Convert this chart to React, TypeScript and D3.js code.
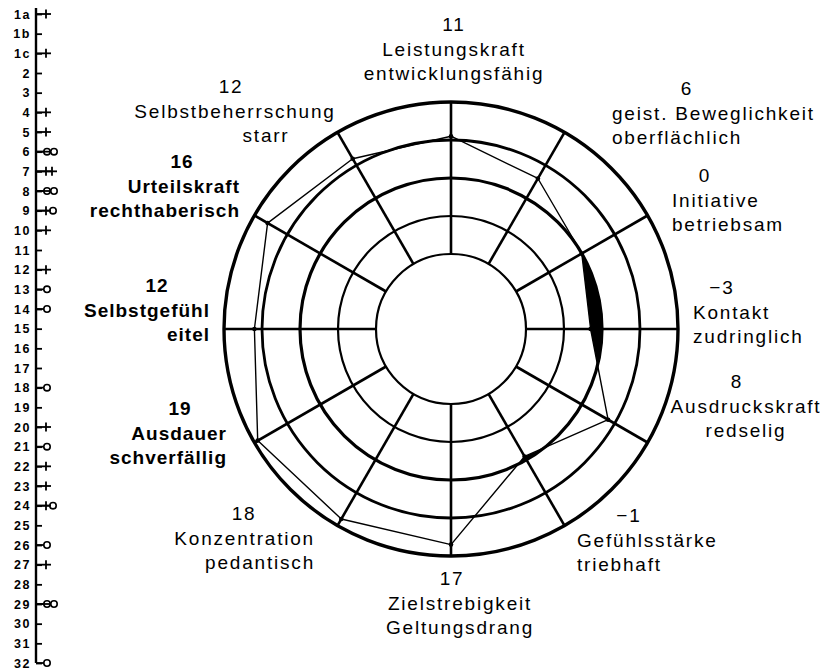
import React, { useRef, useEffect } from "react";
import * as d3 from "d3";

const W = 827;
const H = 669;

// profile, clockwise from the top
const traits = [
  "Leistungskraft",
  "geist. Beweglichkeit",
  "Initiative",
  "Kontakt",
  "Ausdruckskraft",
  "Gefühlsstärke",
  "Zielstrebigkeit",
  "Konzentration",
  "Ausdauer",
  "Selbstgefühl",
  "Urteilskraft",
  "Selbstbeherrschung",
];
const excesses = [
  "entwicklungsfähig",
  "oberflächlich",
  "betriebsam",
  "zudringlich",
  "redselig",
  "triebhaft",
  "Geltungsdrang",
  "pedantisch",
  "schverfällig",
  "eitel",
  "rechthaberisch",
  "starr",
];
const scores = [11, 6, 0, -3, 8, -1, 17, 18, 19, 12, 16, 12];
const ringValues = [-20, -10, 0, 10, 20];

// left scale rows and their marks
const rowLabels = [
  "1a", "1b", "1c", "2", "3", "4", "5", "6", "7", "8", "9", "10", "11", "12",
  "13", "14", "15", "16", "17", "18", "19", "20", "21", "22", "23", "24", "25",
  "26", "27", "28", "29", "30", "31", "32",
];
const rowMarks = [
  "+", "", "+", "", "", "+", "+", "oo", "++", "oo", "+o", "+", "", "+",
  "o", "o", "", "", "", "o", "", "+", "o", "+", "+", "+o", "",
  "o", "+", "", "oo", "", "", "o",
];

// where the trait labels sit (layout only)
const labelLayout = [
  { x: 454, anchor: "middle", numX: 454, y: 31 },
  { x: 612, anchor: "start", numX: 687, y: 95 },
  { x: 672, anchor: "start", numX: 705, y: 182 },
  { x: 693, anchor: "start", numX: 722, y: 294 },
  { x: 746, anchor: "middle", numX: 737, y: 388 },
  { x: 577, anchor: "start", numX: 629, y: 522 },
  { x: 460, anchor: "middle", numX: 452, y: 585 },
  { x: 315, anchor: "end", numX: 244, y: 520 },
  { x: 227, anchor: "end", numX: 180, y: 415, bold: true },
  { x: 210, anchor: "end", numX: 157, y: 292, bold: true },
  { x: 240, anchor: "end", numX: 182, y: 168, bold: true },
  { x: 235, anchor: "middle", numX: 231, y: 93, x3: 266 },
];

const FONT = "'Liberation Sans', Arial, Helvetica, sans-serif";

export default function App() {
  const svgRef = useRef<SVGSVGElement>(null);

  useEffect(() => {
    const svg = d3.select(svgRef.current);
    svg.selectAll("*").remove();

    const cx = 451;
    const cy = 329;
    const r = d3.scaleLinear().domain([-20, 20]).range([75, 227]);
    const angle = d3
      .scaleLinear()
      .domain([0, traits.length])
      .range([0, 2 * Math.PI]);

    const g = svg.append("g").attr("transform", `translate(${cx},${cy})`);

    // profile outline
    const profile = d3
      .lineRadial<number>()
      .angle((d, i) => angle(i))
      .radius((d) => r(d))
      .curve(d3.curveLinearClosed);
    const profilePath = profile(scores) as string;

    // black where the profile falls inside the zero ring
    svg
      .append("defs")
      .append("clipPath")
      .attr("id", "outsideProfile")
      .append("path")
      .attr("clip-rule", "evenodd")
      .attr("d", "M-600,-600H600V600H-600Z" + profilePath);

    g.append("circle")
      .attr("r", r(0))
      .attr("fill", "#000")
      .attr("clip-path", "url(#outsideProfile)");

    // rings
    const ringWidth = [2.2, 2.2, 3.2, 2.8, 3.4];
    g.selectAll("circle.ring")
      .data(ringValues)
      .enter()
      .append("circle")
      .attr("class", "ring")
      .attr("r", (d) => r(d))
      .attr("fill", "none")
      .attr("stroke", "#000")
      .attr("stroke-width", (d, i) => ringWidth[i]);

    // spokes
    g.selectAll("line.spoke")
      .data(traits)
      .enter()
      .append("line")
      .attr("class", "spoke")
      .each(function (d, i) {
        const a = d3.pointRadial(angle(i), r(-20));
        const b = d3.pointRadial(angle(i), r(20));
        d3.select(this)
          .attr("x1", a[0])
          .attr("y1", a[1])
          .attr("x2", b[0])
          .attr("y2", b[1]);
      })
      .attr("stroke", "#000")
      .attr("stroke-width", 2.6);

    g.append("path")
      .attr("d", profilePath)
      .attr("fill", "none")
      .attr("stroke", "#000")
      .attr("stroke-width", 1.4)
      .attr("stroke-linejoin", "round");

    g.selectAll("circle.pt")
      .data(scores)
      .enter()
      .append("circle")
      .attr("class", "pt")
      .attr("cx", (d, i) => d3.pointRadial(angle(i), r(d))[0])
      .attr("cy", (d, i) => d3.pointRadial(angle(i), r(d))[1])
      .attr("r", 2.3)
      .attr("fill", "#000");

    // trait labels
    const fmt = d3.format("d");
    const labels = svg
      .append("g")
      .attr("font-family", FONT)
      .attr("font-size", 19)
      .attr("fill", "#000");

    traits.forEach((t, i) => {
      const L = labelLayout[i];
      const lg = labels
        .append("g")
        .attr("font-weight", L.bold ? "bold" : "normal")
        .attr("letter-spacing", L.bold ? 1 : 1.8);
      lg.append("text")
        .attr("x", L.numX)
        .attr("y", L.y)
        .attr("text-anchor", "middle")
        .text(fmt(scores[i]));
      lg.append("text")
        .attr("x", L.x)
        .attr("y", L.y + 24.5)
        .attr("text-anchor", L.anchor)
        .text(t);
      lg.append("text")
        .attr("x", L.x3 ?? L.x)
        .attr("y", L.y + 49)
        .attr("text-anchor", L.x3 ? "middle" : L.anchor)
        .text(excesses[i]);
    });

    // left scale
    const y = d3.scalePoint().domain(rowLabels).range([14, 663]);
    const ax = svg.append("g").attr("transform", "translate(36,0)");
    ax.call(d3.axisLeft(y).tickSizeInner(-6).tickSizeOuter(0).tickPadding(5));
    ax.select(".domain").attr("stroke-width", 2.4).attr("d", "M0,8V663");
    ax.selectAll(".tick line").attr("stroke-width", 1.8);
    ax.selectAll(".tick text")
      .attr("font-family", FONT)
      .attr("font-size", 12.5)
      .attr("font-weight", "bold")
      .attr("letter-spacing", 1.6)
      .attr("fill", "#000");

    rowLabels.forEach((lab, i) => {
      const yy = y(lab) as number;
      let cur = 6;
      for (const c of rowMarks[i]) {
        if (c === "+") {
          ax.append("line")
            .attr("x1", 0)
            .attr("x2", cur + 9)
            .attr("y1", yy)
            .attr("y2", yy)
            .attr("stroke", "#000")
            .attr("stroke-width", 1.8);
          ax.append("line")
            .attr("x1", cur + 4)
            .attr("x2", cur + 4)
            .attr("y1", yy - 4.5)
            .attr("y2", yy + 4.5)
            .attr("stroke", "#000")
            .attr("stroke-width", 1.8);
          cur += 6;
        } else if (c === "o") {
          ax.append("line")
            .attr("x1", 0)
            .attr("x2", cur + 2)
            .attr("y1", yy)
            .attr("y2", yy)
            .attr("stroke", "#000")
            .attr("stroke-width", 1.8);
          ax.append("circle")
            .attr("cx", cur + 5)
            .attr("cy", yy)
            .attr("r", 3.2)
            .attr("fill", "none")
            .attr("stroke", "#000")
            .attr("stroke-width", 1.6);
          cur += 7;
        }
      }
    });
  }, []);

  return (
    <svg
      ref={svgRef}
      width={W}
      height={H}
      style={{ position: "absolute", left: 0, top: 0, background: "#fff" }}
    />
  );
}
